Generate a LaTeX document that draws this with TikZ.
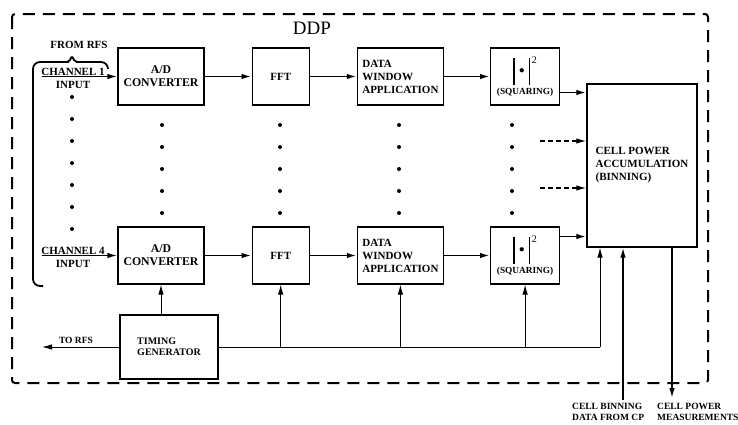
\documentclass[tikz,border=0pt]{standalone}
\usepackage{fontspec}
\setmainfont{Liberation Serif}
\usepackage{tikz}
\usetikzlibrary{arrows.meta, positioning, calc}

\newcommand{\sqbar}{\rule[-9pt]{1.7pt}{27pt}}
\newcommand{\sqmark}{\sqbar\hspace{4pt}\raisebox{2pt}{$\bullet$}\hspace{4pt}\sqbar\hspace{1.5pt}\raisebox{12pt}{\fontsize{10}{10}\selectfont\mdseries 2}\\[2pt]{\fontsize{9.3}{10}\selectfont(SQUARING)}}

\begin{document}
\begin{tikzpicture}[x=1pt, y=-1pt, node distance=47pt, >={Latex[length=10pt,width=5.5pt]},
    blk/.style={draw, line width=1.2pt, inner sep=2pt, align=center, font=\fontsize{11}{13}\selectfont\bfseries},
    adbox/.style={blk, minimum width=86pt, minimum height=57pt, font=\fontsize{11.8}{13}\selectfont\bfseries},
    fftbox/.style={blk, minimum width=57pt, minimum height=57pt},
    dwbox/.style={blk, minimum width=86pt, minimum height=57pt, align=left},
    sqbox/.style={blk, minimum width=69pt, minimum height=57pt, inner sep=0pt},
    lbl/.style={inner sep=0pt, align=center, font=\fontsize{11}{13}\selectfont\bfseries},
    small/.style={inner sep=0pt, align=left, font=\fontsize{9.5}{10.5}\selectfont\bfseries},
    flow/.style={->, line width=1.8pt},
    clk/.style={line width=0.9pt}]
        \useasboundingbox (0,0) rectangle (738,424);
        \draw[line width=2pt, dash pattern=on 12pt off 8pt, rounded corners=3pt] (12,14) rectangle (708,383);
        \node[font=\fontsize{19}{19}\selectfont] (ddp) at (312,28) {DDP};

        \node[adbox] (adc1) at (161,76.5) {A/D\\CONVERTER};
        \node[fftbox, right=of adc1] (fft1) {FFT};
        \node[dwbox, right=of fft1] (dwa1) {DATA\\WINDOW\\APPLICATION};
        \node[sqbox, right=46pt of dwa1] (sq1) {\sqmark};

        \node[adbox] (adc2) at (161,255.5) {A/D\\CONVERTER};
        \node[fftbox, right=of adc2] (fft2) {FFT};
        \node[dwbox, right=of fft2] (dwa2) {DATA\\WINDOW\\APPLICATION};
        \node[sqbox, right=46pt of dwa2] (sq2) {\sqmark};

        \node[blk, minimum width=110pt, minimum height=163pt, align=left] (cell) at (642,165.5) {CELL POWER\\ACCUMULATION\\(BINNING)};
        \node[blk, minimum width=98pt, minimum height=64pt, align=left, font=\fontsize{10}{11}\selectfont\bfseries] (tg) at (169,347) {TIMING\\GENERATOR};

        \draw[line width=1.8pt] (43,286) [rounded corners=7pt] -| (33,62) -- (62,62) [rounded corners=2pt] -- (69,62) -- (72,56) -- (75,62) -- (82,62) [rounded corners=7pt] -- (108,62) -- (108,69);
        \node[lbl] (rfs) at (79,45) {FROM RFS};

        \coordinate (ch1) at (42,76.5);
        \coordinate (ch4) at (42,255.5);
        \draw[->, line width=1.5pt] (ch1) -- (adc1.west);
        \draw[->, line width=1.5pt] (ch4) -- (adc2.west);
        \node[lbl, anchor=north] (ch1txt) at (73,68) {CHANNEL 1\\INPUT};
        \node[lbl, anchor=north] (ch4txt) at (73,247) {CHANNEL 4\\INPUT};

        \foreach \x in {162,280,399,512}
            \foreach \y in {125,147,...,213}
                \fill (\x,\y) circle (2pt);
        \foreach \y in {97,119,...,229}
            \fill (72,\y) circle (2pt);

        \draw[flow] (adc1.east) -- (fft1.west);
        \draw[flow] (fft1.east) -- (dwa1.west);
        \draw[flow] (dwa1.east) -- (sq1.west);
        \draw[flow] (adc2.east) -- (fft2.west);
        \draw[flow] (fft2.east) -- (dwa2.west);
        \draw[flow] (dwa2.east) -- (sq2.west);

        \draw[flow] ([yshift=-16pt]sq1.east) -- ([yshift=-16pt]sq1.east -| cell.west);
        \draw[flow] ([yshift=19pt]sq2.east) -- ([yshift=19pt]sq2.east -| cell.west);
        \coordinate (ex1) at (540,141);
        \coordinate (ex2) at (540,188);
        \draw[->, line width=1.3pt, dash pattern=on 5pt off 3pt] (ex1) -- (ex1 -| cell.west);
        \draw[->, line width=1.3pt, dash pattern=on 5pt off 3pt] (ex2) -- (ex2 -| cell.west);

        \coordinate (torfs) at (42,347);
        \coordinate (tcell) at (600,347);
        \draw[clk, ->] (tg.west) -- (torfs);
        \node[small] (torfstxt) at (76,340) {TO RFS};
        \draw[clk] (tg.east) -- (tcell);
        \draw[clk, ->] (tcell) -- (tcell |- cell.south);
        \draw[clk, ->] (tg.north -| adc2.south) -- (adc2.south);
        \draw[clk, ->] (tg.east -| fft2.south) -- (fft2.south);
        \draw[clk, ->] (tg.east -| dwa2.south) -- (dwa2.south);
        \draw[clk, ->] (tg.east -| sq2.south) -- (sq2.south);

        \coordinate (cpin) at (623,400);
        \coordinate (cpout) at (672,398);
        \draw[->, line width=1.5pt] (cpin) -- (cpin |- cell.south);
        \draw[->, line width=1.5pt] (cpout |- cell.south) -- (cpout);
        \node[small, anchor=north west] (cbin) at (572,403) {CELL BINNING\\DATA FROM CP};
        \node[small, anchor=north west] (cmeas) at (657,403) {CELL POWER\\MEASUREMENTS};
    \end{tikzpicture}
\end{document}
